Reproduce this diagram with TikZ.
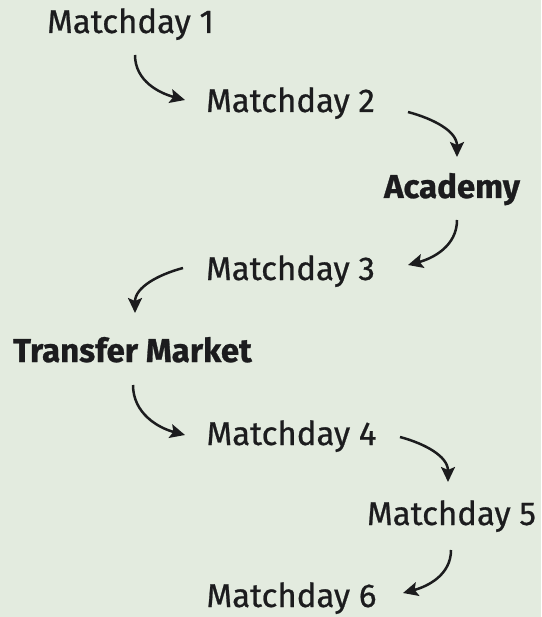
\documentclass[tikz,border=0pt]{standalone}
\usepackage{fontspec}
\setmainfont{Fira Sans}
\newfontfamily\dayfont{Fira Sans}[FakeBold=0.7, BoldFeatures={FakeBold=0.8}]
\usetikzlibrary{arrows.meta}
\definecolor{turf}{RGB}{227,235,223}
\definecolor{ink}{RGB}{28,28,30}

\begin{document}
\begin{tikzpicture}[x=1pt, y=1pt,
  day/.style={anchor=base, inner sep=0pt, text=ink, font=\dayfont\fontsize{33}{40}\selectfont},
  extra/.style={day, font=\dayfont\fontsize{33}{40}\selectfont\bfseries},
  flow/.style={-{Stealth[length=15pt, width=14pt, inset=3pt]}, line width=2.5pt, draw=ink}]
\fill [turf] (0,0) rectangle (541,-617);
\useasboundingbox (0,0) rectangle (541,-617);

\node [day] (md1) at (130.5,-33) {Matchday 1};
\node [day] (md2) at (290.5,-112) {Matchday 2};
\node [extra] (acad) at (452,-198) {Academy};
\node [day] (md3) at (290.5,-280) {Matchday 3};
\node [extra] (market) at (132.5,-362) {Transfer Market};
\node [day] (md4) at (291.5,-445) {Matchday 4};
\node [day] (md5) at (451.5,-525) {Matchday 5};
\node [day] (md6) at (291.5,-607) {Matchday 6};

\draw [flow] ([shift={(4.5,-22)}] md1.base) to [out=-90, in=165] ([shift={(-105.5,12)}] md2.base);
\draw [flow] ([shift={(117.5,0)}] md2.base) to [out=-15, in=90] ([shift={(5,41)}] acad.base);
\draw [flow] ([shift={(5,-22)}] acad.base) to [out=-90, in=15] ([shift={(117.5,15)}] md3.base);
\draw [flow] ([shift={(-107.5,12)}] md3.base) to [out=195, in=90] ([shift={(2.5,49)}] market.base);
\draw [flow] ([shift={(0.5,-23)}] market.base) to [out=-90, in=165] ([shift={(-106.5,10)}] md4.base);
\draw [flow] ([shift={(108.5,8)}] md4.base) to [out=-15, in=90] ([shift={(-3.5,43)}] md5.base);
\draw [flow] ([shift={(-0.5,-25)}] md5.base) to [out=-90, in=15] ([shift={(111.5,14)}] md6.base);
\end{tikzpicture}
\end{document}
